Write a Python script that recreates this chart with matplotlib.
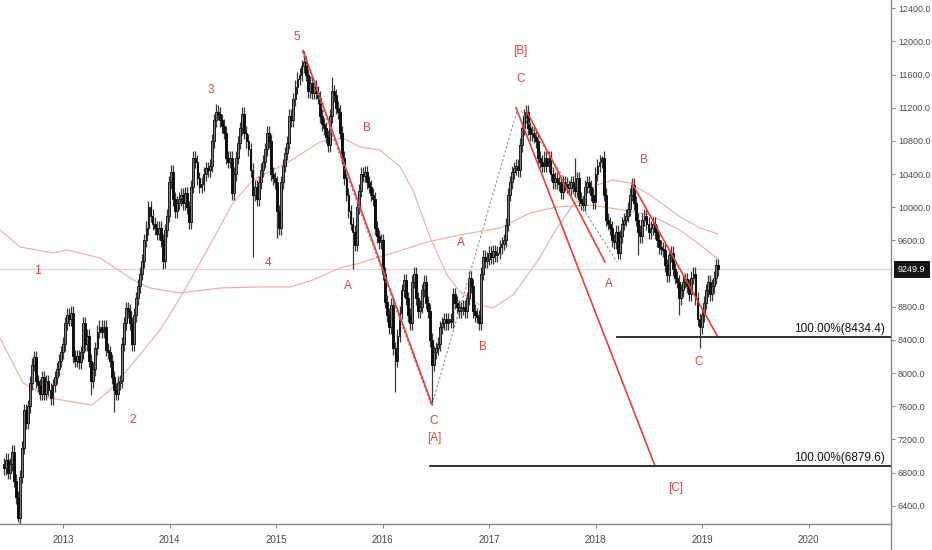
import numpy as np
import matplotlib
matplotlib.use("Agg")
import matplotlib.pyplot as plt
from matplotlib.lines import Line2D

# ---------------- data ----------------
closes = [
    6850, 6950, 6800, 6900, 7050, 6700, 6500, 6250, 6750, 7100,
    7550, 7400, 7600, 7880, 8100, 8190, 7900, 7850, 7750, 7950,
    7750, 7900, 7800, 7700, 7850, 7950, 8050, 8150, 8250, 8350,
    8600, 8700, 8650, 8730, 8200, 8150, 8200, 8130, 8250, 8600,
    8350, 8450, 8150, 7900, 8050, 8300, 8500, 8560, 8500, 8560,
    8280, 8250, 8150, 7950, 7800, 7750, 7880, 7900, 8350, 8600,
    8780, 8750, 8600, 8350, 8700, 8900, 9050, 9200, 9350, 9600,
    9750, 10000, 9900, 9800, 9750, 9680, 9750, 9600, 9350, 9720,
    9900, 10300, 10430, 10100, 9950, 10050, 10100, 10150, 10050, 10170,
    10000, 9820, 10250, 10600, 10550, 10350, 10250, 10280, 10400, 10470,
    10450, 10500, 10800, 11050, 11150, 11130, 11050, 10980, 10900, 10600,
    10550, 10600, 10170, 10400, 10600, 10780, 10950, 11130, 10900, 10800,
    10700, 10450, 10150, 10250, 10100, 10300, 10450, 10550, 10700, 10900,
    10800, 10400, 10350, 10300, 9950, 9750, 10300, 10500, 10650, 10780,
    11100, 11050, 11300, 11450, 11550, 11600, 11700, 11750, 11600, 11400,
    11500, 11380, 11450, 11380, 11320, 11100, 11000, 10950, 10850, 10750,
    11100, 11400, 11350, 11200, 11150, 10900, 10600, 10350, 10150, 9950,
    9800, 9700, 9550, 10000, 10200, 10400, 10380, 10420, 10300, 10250,
    10150, 10100, 9750, 9650, 9580, 9600, 9200, 8860, 8700, 8550,
    8820, 8300, 8150, 8450, 8730, 9000, 9120, 8900, 8700, 8600,
    9100, 9200, 8900, 8750, 8800, 9000, 9100, 8850, 8750, 8400,
    8100, 8250, 8300, 8350, 8550, 8600, 8650, 8600, 8650, 8620,
    8950, 8850, 8800, 8750, 8780, 8800, 8750, 8900, 9150, 9050,
    8750, 8700, 8680, 8600, 9200, 9400, 9350, 9380, 9450, 9400,
    9470, 9420, 9450, 9520, 9560, 9600, 9790, 10150, 10300, 10420,
    10470, 10500, 10450, 10750, 10950, 11100, 11150, 10950, 10880, 10900,
    10850, 10800, 10600, 10550, 10500, 10600, 10500, 10600, 10400, 10300,
    10350, 10300, 10280, 10180, 10300, 10280, 10250, 10230, 10300, 10250,
    10200, 10350, 10100, 10050, 10030, 10250, 10300, 10250, 10150, 10060,
    10400, 10500, 10550, 10600, 10150, 9850, 9800, 9750, 9600, 9580,
    9700, 9450, 9650, 9800, 9850, 9900, 9980, 10150, 10270, 10050,
    9850, 9700, 9650, 9850, 9900, 9800, 9700, 9750, 9800, 9700,
    9600, 9520, 9500, 9480, 9300, 9180, 9420, 9450, 9250, 9150,
    9100, 8900, 9000, 9100, 9130, 9050, 8950, 9150, 9200, 8900,
    8650, 8550, 8700, 8850, 9000, 9100, 8950, 9050, 9150, 9300, 9249.9,
]
first_open = 6900
first_week = 2012.439          # decimal year of the first weekly candle
# notable wick extremes: index -> (high, low)
extremes = {
    7: (None, 6200), 43: (None, 7730), 54: (None, 7530), 78: (None, 9260),
    104: (11250, None), 122: (None, 9400), 134: (None, 9630), 147: (11880, None),
    161: (11570, None), 171: (None, 9260), 192: (None, 7770), 210: (None, 7620),
    255: (11190, None), 280: (10600, None), 293: (10620, None), 311: (None, 9420),
    331: (None, 8700), 341: (None, 8300),
}
last_price = 9249.9

ma_fast = [
    (2012.406, 8423), (2012.622, 7880), (2012.875, 7699), (2013.091, 7651),
    (2013.270, 7614), (2013.439, 7795), (2013.655, 8121), (2013.908, 8519),
    (2014.124, 8966), (2014.377, 9545), (2014.593, 10052), (2014.781, 10329),
    (2015.100, 10534), (2015.410, 10788), (2015.626, 10836), (2015.786, 10727),
    (2015.974, 10690), (2016.161, 10490), (2016.283, 10208), (2016.443, 9641),
    (2016.603, 9183), (2016.725, 8978), (2016.913, 8821), (2017.035, 8785),
    (2017.223, 8942), (2017.448, 9340), (2017.636, 9750), (2017.786, 10027),
    (2018.011, 10268), (2018.161, 10329), (2018.321, 10293), (2018.537, 10124),
    (2018.791, 9883), (2018.979, 9750), (2019.147, 9678),
]
ma_slow = [
    (2012.406, 9726), (2012.593, 9521), (2012.903, 9449), (2013.035, 9485),
    (2013.345, 9388), (2013.655, 9123), (2013.814, 9026), (2014.096, 8966),
    (2014.471, 9026), (2014.847, 9038), (2015.129, 9038), (2015.345, 9123),
    (2015.598, 9268), (2015.786, 9328), (2016.096, 9449), (2016.415, 9581),
    (2016.725, 9666), (2017.100, 9750), (2017.382, 9931), (2017.636, 10003),
    (2017.946, 10027), (2018.256, 9967), (2018.509, 9907), (2018.791, 9726),
    (2018.979, 9545), (2019.147, 9376),
]
red_lines = [
    [(2015.251, 11890), (2016.462, 7620)],
    [(2017.251, 11200), (2018.556, 6880)],
    [(2017.354, 11150), (2018.086, 9340)],
    [(2018.340, 10290), (2019.147, 8434)],
]
dotted_lines = [
    [(2015.240, 11880), (2016.452, 7620)],
    [(2016.462, 7620), (2017.262, 11170)],
    [(2017.300, 11160), (2018.199, 9340)],
]
fib_levels = [(2018.199, 8434.4), (2016.443, 6879.6)]
fib_labels = ["100.00%(8434.4)", "100.00%(6879.6)"]

wave_labels = [
    (2012.753, 9231, "1"), (2013.655, 7434, "2"), (2014.387, 11414, "3"),
    (2014.922, 9328, "4"), (2015.194, 12054, "5"), (2015.851, 10956, "B"),
    (2015.673, 9050, "A"), (2016.734, 9569, "A"), (2016.481, 7422, "C"),
    (2016.481, 7217, "[A]"), (2016.941, 8315, "B"), (2017.288, 11885, "[B]"),
    (2017.297, 11547, "C"), (2018.123, 9074, "A"), (2018.452, 10570, "B"),
    (2018.968, 8134, "C"), (2018.752, 6614, "[C]"),
]
years = [2013, 2014, 2015, 2016, 2017, 2018, 2019, 2020]
price_ticks = [12400, 12000, 11600, 11200, 10800, 10400, 10000, 9600,
               8800, 8400, 8000, 7600, 7200, 6800, 6400]

# ---------------- style ----------------
SANS = ["Liberation Sans", "DejaVu Sans"]
RED = "#e8403a"
PINK = "#f2a6a6"
AXIS = "#8a8a8a"
TXT = "#4a4a4a"
WICK = 80
week = 7 / 365.25
XL = (2012.4056, 2020.772)
YL = (6179, 12500)

fig = plt.figure(figsize=(9.32, 5.5), dpi=100)
ax = fig.add_axes([0, 26 / 550, 891 / 932, 524 / 550])
ax.set_xlim(*XL)
ax.set_ylim(*YL)

# current price line
ax.axhline(last_price, color="#e3d3d3", lw=0.8, zorder=1)

# moving averages
for ma in (ma_fast, ma_slow):
    xs, ys = zip(*ma)
    ax.plot(xs, ys, color=PINK, lw=0.8, zorder=2)

# candles
c = np.array(closes, dtype=float)
o = np.concatenate([[first_open], c[:-1]])
t = first_week + np.arange(len(c)) * week
hi = np.maximum(o, c) + WICK
lo = np.minimum(o, c) - WICK
for k, (h, l) in extremes.items():
    if h is not None:
        hi[k] = h
    if l is not None:
        lo[k] = l
up = c >= o
ax.vlines(t, lo, hi, color="#3a3a3a", lw=0.9, zorder=3)
ax.bar(t[up], (c - o)[up], bottom=o[up], width=week * 0.9,
       color="#7c7c7c", edgecolor="#1e1e1e", linewidth=0.7, zorder=4)
ax.bar(t[~up], (o - c)[~up], bottom=c[~up], width=week * 0.9,
       color="#101010", edgecolor="#101010", linewidth=0.7, zorder=4)

# dotted wave lines
for seg in dotted_lines:
    xs, ys = zip(*seg)
    ax.plot(xs, ys, color="#8c8c8c", lw=0.8, ls=(0, (2, 2)), zorder=5)

# red trend lines
for seg in red_lines:
    xs, ys = zip(*seg)
    ax.plot(xs, ys, color=RED, lw=1.2, zorder=6)

# fib levels
for (x0, lvl), lab in zip(fib_levels, fib_labels):
    ax.plot([x0, XL[1]], [lvl, lvl], color="#222222", lw=1.3, zorder=6)
    ax.annotate(lab, xy=(2020.7155, lvl), xytext=(0, 1.5),
                textcoords="offset points", ha="right", va="bottom",
                fontsize=8.5, family=SANS, color="#111111", zorder=7)

# wave labels
for x, y, s in wave_labels:
    ax.text(x, y, s, ha="center", va="center", fontsize=8.5,
            family=SANS, color=RED, zorder=7)

# axes styling
for sp in ("top", "left"):
    ax.spines[sp].set_visible(False)
for sp in ("bottom", "right"):
    ax.spines[sp].set_color(AXIS)
    ax.spines[sp].set_linewidth(1.0)
ax.yaxis.tick_right()
ax.set_yticks(price_ticks)
ax.set_yticklabels([f"{v:.1f}" for v in price_ticks])
ax.set_xticks(years)
ax.set_xticklabels([str(y) for y in years])
ax.tick_params(axis="y", direction="out", length=3, width=0.8, color=AXIS,
               pad=2, labelsize=6.5, labelcolor=TXT)
ax.tick_params(axis="x", direction="out", length=3, width=0.8, color=AXIS,
               pad=5, labelsize=7, labelcolor=TXT)
for lab in ax.get_xticklabels() + ax.get_yticklabels():
    lab.set_family(SANS)

# right scale separator continues to bottom of figure
fig.add_artist(Line2D([891 / 932, 891 / 932], [0, 26 / 550],
                      color=AXIS, lw=1.0, transform=fig.transFigure))

# last price badge
ax.annotate(f"{last_price:.1f}", xy=(1, last_price),
            xycoords=("axes fraction", "data"), xytext=(5, 0),
            textcoords="offset points", ha="left", va="center",
            fontsize=6.5, family=SANS, color="white",
            bbox=dict(boxstyle="square,pad=0.45", fc="#131313", ec="none"),
            annotation_clip=False, zorder=10)

fig.savefig("out.png", dpi=100, facecolor="white")
